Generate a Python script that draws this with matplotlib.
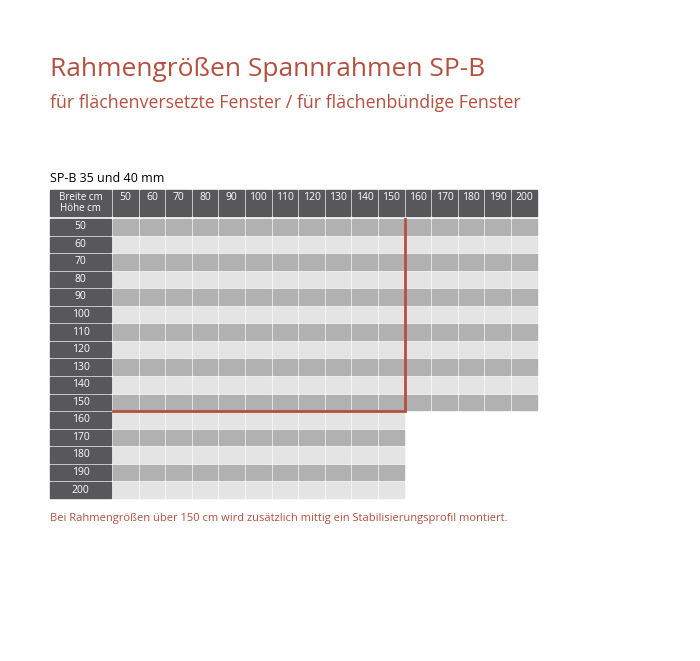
import matplotlib
matplotlib.use("Agg")
import matplotlib.pyplot as plt
from matplotlib.patches import Rectangle

widths = [50, 60, 70, 80, 90, 100, 110, 120, 130, 140, 150, 160, 170, 180, 190, 200]
heights = [50, 60, 70, 80, 90, 100, 110, 120, 130, 140, 150, 160, 170, 180, 190, 200]
limit = 150  # larger only one dimension beyond 150

title = "Rahmengrößen Spannrahmen SP-B"
subtitle = "für flächenversetzte Fenster / für flächenbündige Fenster"
table_title = "SP-B 35 und 40 mm"
footer = "Bei Rahmengrößen über 150 cm wird zusätzlich mittig ein Stabilisierungsprofil montiert."

RED = "#b5503f"
HDR = "#58585a"
DARK = "#b1b1b1"
LIGHT = "#e4e4e4"
plt.rcParams['font.family'] = ['Open Sans', 'DejaVu Sans']

fig = plt.figure(figsize=(7, 6.61), dpi=100)
ax = fig.add_axes([0, 0, 1, 1])
ax.set_xlim(0, 700); ax.set_ylim(661, 0); ax.axis('off')

x0, lw = 50, 61
cx0, cw = 113, 26.6
hy0, hh = 190, 28
ry0, rh = 219, 17.55
g = 2

fig.text(50/700, 1-70/661, title, color=RED, fontsize=19, va='center')
fig.text(50/700, 1-103/661, subtitle, color=RED, fontsize=12.8, va='center')
fig.text(50/700, 1-178/661, table_title, color='black', fontsize=9, va='center')
fig.text(50/700, 1-518/661, footer, color=RED, fontsize=8, va='center')

# header
ax.add_patch(Rectangle((x0, hy0), lw, hh - g, color=HDR))
ax.text(x0 + lw/2, hy0 + hh/2 - 1, "Breite cm\nHöhe cm", color='white', ha='center', va='center', fontsize=7, linespacing=1.05)
for j, w in enumerate(widths):
    x = cx0 + j*cw
    ax.add_patch(Rectangle((x, hy0), cw - g, hh - g, color=HDR))
    ax.text(x + (cw-g)/2, hy0 + 8, str(w), color='white', ha='center', va='center', fontsize=7.5)

for i, h in enumerate(heights):
    y = ry0 + i*rh
    ax.add_patch(Rectangle((x0, y), lw, rh - g, color=HDR))
    ax.text(x0 + lw/2, y + (rh-g)/2, str(h), color='white', ha='center', va='center', fontsize=7.5)
    col = DARK if i % 2 == 0 else LIGHT
    for j, w in enumerate(widths):
        if w > limit and h > limit:
            continue
        ax.add_patch(Rectangle((cx0 + j*cw, y), cw - g, rh - g, color=col))

# red boundary
nw = sum(1 for w in widths if w <= limit)
nh = sum(1 for h in heights if h <= limit)
xr = cx0 + nw*cw - g/2
yb = ry0 + nh*rh - g/2
ax.plot([cx0, xr, xr], [yb, yb, ry0], color=RED, lw=2, solid_joinstyle='miter')

fig.savefig("out.png", dpi=100)
